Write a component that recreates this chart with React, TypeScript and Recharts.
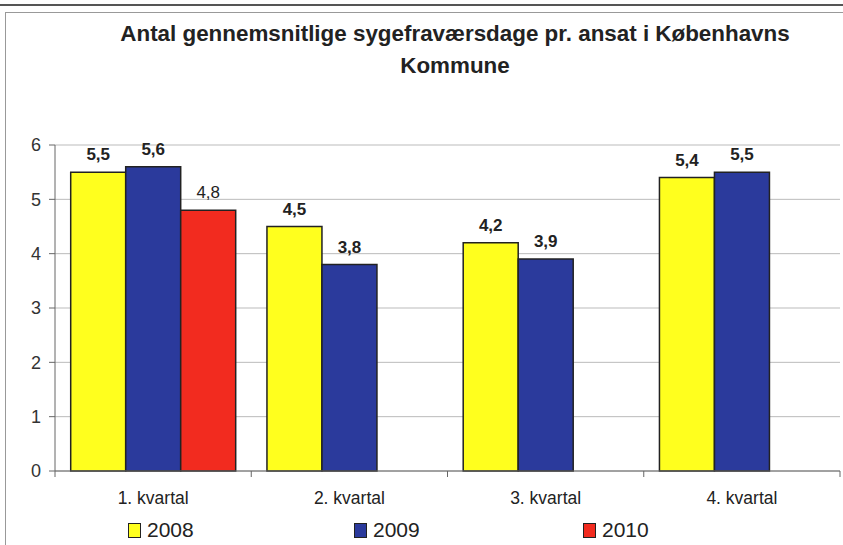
import React from "react";
import { Bar, BarChart, CartesianGrid, LabelList, XAxis, YAxis } from "recharts";

const quarters = ["1. kvartal", "2. kvartal", "3. kvartal", "4. kvartal"];
const values2008 = [5.5, 4.5, 4.2, 5.4];
const values2009 = [5.6, 3.8, 3.9, 5.5];
const values2010 = [4.8, null, null, null];
const yTicks = [0, 1, 2, 3, 4, 5, 6];

const data = quarters.map((q, i) => ({
  name: q,
  y2008: values2008[i],
  y2009: values2009[i],
  y2010: values2010[i],
}));

const series = [
  { key: "y2008", label: "2008", color: "#FFFF1E", bold: true },
  { key: "y2009", label: "2009", color: "#2B3A9C", bold: true },
  { key: "y2010", label: "2010", color: "#F22B1F", bold: false },
];

const W = 843;
const H = 545;
const M = { top: 145, right: 3, bottom: 44, left: 0 };
const Y_W = 55;
const band = (W - M.left - M.right - Y_W) / quarters.length;
const font = "'Liberation Sans', Arial, sans-serif";

const fmt = (v: any) => (v == null ? "" : String(v).replace(".", ","));

function QuarterTick(props: any) {
  const { x, y, payload, index } = props;
  return (
    <g>
      <line x1={x - band / 2} y1={y - 8} x2={x - band / 2} y2={y - 2} stroke="#666" />
      {index === quarters.length - 1 && (
        <line x1={x + band / 2} y1={y - 8} x2={x + band / 2} y2={y - 2} stroke="#666" />
      )}
      <text x={x} y={y + 25} textAnchor="middle" fontSize={17.5} fill="#222" fontFamily={font}>
        {payload.value}
      </text>
    </g>
  );
}

const legendX = [128, 354, 583];

function Legend() {
  return (
    <div style={{ position: "absolute", left: 0, top: 518, fontFamily: font }}>
      {series.map((s, i) => (
        <div key={s.key} style={{ position: "absolute", left: legendX[i], top: 0, display: "flex", alignItems: "center", whiteSpace: "nowrap" }}>
          <span
            style={{
              display: "inline-block",
              width: 11,
              height: 13,
              background: s.color,
              border: "1.5px solid #222",
              marginRight: 6,
            }}
          />
          <span style={{ fontSize: 21, color: "#222", lineHeight: "24px" }}>{s.label}</span>
        </div>
      ))}
    </div>
  );
}

export default function App() {
  return (
    <div style={{ position: "absolute", left: 0, top: 0, width: W, height: H, background: "#fff", overflow: "hidden" }}>
      <div style={{ position: "absolute", left: 0, top: 4, width: W, borderTop: "2px solid #555" }} />
      <div style={{ position: "absolute", left: 5, top: 12, width: W - 5, height: H, borderLeft: "1px solid #999", borderTop: "1px solid #999" }} />
      <div
        style={{
          position: "absolute",
          left: 60,
          top: 18,
          width: 790,
          textAlign: "center",
          fontFamily: font,
          fontWeight: "bold",
          fontSize: 22.4,
          lineHeight: "32px",
          color: "#222",
        }}
      >
        Antal gennemsnitlige sygefraværsdage pr. ansat i Københavns
        <br />
        Kommune
      </div>
      <div style={{ position: "absolute", left: 0, top: 0 }}>
        <BarChart width={W} height={H} data={data} margin={M} barCategoryGap="8%" barGap={0}>
          <CartesianGrid vertical={false} stroke="#bbb" />
          <XAxis dataKey="name" height={30} tick={<QuarterTick />} tickLine={false} axisLine={{ stroke: "#666" }} interval={0} />
          <YAxis
            domain={[0, 6]}
            ticks={yTicks}
            width={Y_W}
            tick={{ fontSize: 18, fill: "#333", fontFamily: font }}
            tickLine={{ stroke: "#666" }}
            axisLine={{ stroke: "#666" }}
            tickMargin={8}
          />
          {series.map((s) => (
            <Bar key={s.key} dataKey={s.key} fill={s.color} stroke="#222" strokeWidth={1.5} isAnimationActive={false}>
              <LabelList
                dataKey={s.key}
                position="top"
                offset={12}
                formatter={fmt}
                style={{ fontSize: 17, fontWeight: s.bold ? "bold" : "normal", fill: "#222", fontFamily: font }}
              />
            </Bar>
          ))}
        </BarChart>
      </div>
      <Legend />
    </div>
  );
}
